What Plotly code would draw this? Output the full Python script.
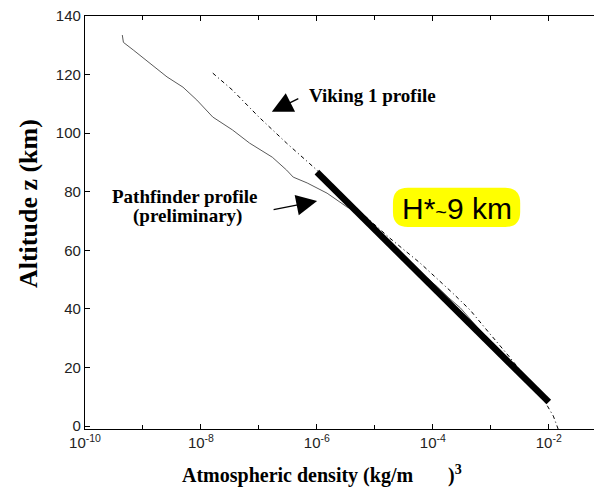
import plotly.graph_objects as go

# ---------------- data ----------------
pathfinder_density = [4.4e-10, 4.6e-10, 6.8e-10, 1.3e-9, 2.6e-9, 4.9e-9, 8.5e-9, 1.6e-8,
                      3.5e-8, 6.9e-8, 1.7e-7, 3.0e-7, 3.9e-7, 6.8e-7, 1.5e-6, 3.3e-6,
                      4.9e-6, 1.0e-5, 2.5e-5, 6.3e-5, 1.2e-4, 1.9e-4, 3.0e-4, 6.3e-4,
                      1.6e-3, 4.0e-3, 7.1e-3]
pathfinder_alt = [133.5, 131.0, 128.4, 123.9, 119.2, 115.7, 111.3, 105.5,
                  101.1, 96.6, 91.8, 87.4, 85.0, 83.0, 79.5, 74.8,
                  73.1, 67.5, 59.8, 52.3, 47.5, 43.7, 40.3, 33.0,
                  25.0, 16.5, 11.3]

viking_density = [1.6e-8, 3.5e-8, 1.0e-7, 3.0e-7, 1.0e-6, 3.3e-6, 1.8e-5, 6.0e-5,
                  2.2e-4, 4.4e-4, 8.5e-4, 2.1e-3, 4.7e-3, 7.9e-3, 9.5e-3, 1.2e-2, 1.45e-2]
viking_alt = [120.5, 114.7, 105.5, 96.6, 87.4, 77.2, 64.2, 55.7,
              45.4, 39.6, 32.8, 23.6, 15.0, 9.6, 6.8, 3.4, -1.0]

fit_density = [1e-6, 1e-2]
fit_alt = [86.7, 8.2]

x_tickvals = [1e-10, 1e-8, 1e-6, 1e-4, 1e-2]
x_ticktext = ["10<sup>-10</sup>", "10<sup>-8</sup>", "10<sup>-6</sup>",
              "10<sup>-4</sup>", "10<sup>-2</sup>"]
x_minorvals = [1e-9, 1e-7, 1e-5, 1e-3]
y_tickvals = [0, 20, 40, 60, 80, 100, 120, 140]

# ---------------- figure ----------------
fig = go.Figure()
fig.add_trace(go.Scatter(x=pathfinder_density, y=pathfinder_alt, mode="lines",
                         line=dict(color="#5a5a5a", width=1), name="Pathfinder"))
fig.add_trace(go.Scatter(x=viking_density, y=viking_alt, mode="lines",
                         line=dict(color="black", width=1, dash="4px,3px,1px,3px"),
                         name="Viking 1"))
fig.add_trace(go.Scatter(x=fit_density, y=fit_alt, mode="lines",
                         line=dict(color="black", width=6.5), name="fit"))

serif = "Liberation Serif"
sans = "Liberation Sans"

fig.update_layout(
    width=594, height=492,
    margin=dict(l=85, r=0, t=16, b=63),
    paper_bgcolor="white", plot_bgcolor="white",
    showlegend=False,
    xaxis=dict(type="log", range=[-10, -1.22],
               tickmode="array", tickvals=x_tickvals, ticktext=x_ticktext,
               ticks="inside", ticklen=5, tickcolor="black", tickwidth=1,
               showline=True, linecolor="black", linewidth=1.3, mirror="ticks",
               showgrid=False, zeroline=False,
               tickfont=dict(family=sans, size=15, color="#222"),
               minor=dict(tickmode="array", tickvals=x_minorvals, ticks="inside",
                          ticklen=4, tickcolor="black", showgrid=False)),
    yaxis=dict(range=[-1, 140], tickmode="array", tickvals=y_tickvals,
               ticks="inside", ticklen=5, tickcolor="black", tickwidth=1,
               showline=True, linecolor="black", linewidth=1.3,
               showgrid=False, zeroline=False,
               tickfont=dict(family=sans, size=15, color="#222")),
)

# rounded yellow box for H*~9 km
x0, x1, y0, y1 = 0.605, 0.855, 0.489, 0.584
rx, ry = 15 / 509, 15 / 413
path = (f"M {x0+rx},{y0} L {x1-rx},{y0} Q {x1},{y0} {x1},{y0+ry} "
        f"L {x1},{y1-ry} Q {x1},{y1} {x1-rx},{y1} L {x0+rx},{y1} "
        f"Q {x0},{y1} {x0},{y1-ry} L {x0},{y0+ry} Q {x0},{y0} {x0+rx},{y0} Z")
fig.add_shape(type="path", path=path, xref="paper", yref="paper",
              fillcolor="#ffff00", line=dict(width=0), layer="above")

annos = [
    dict(x=0.730, y=0.535, text="H*<span style='font-size:20px'>~</span>9 km",
         font=dict(family=sans, size=30, color="black")),
    dict(x=0.565, y=0.808, text="<b>Viking 1 profile</b>",
         font=dict(family=serif, size=19, color="black")),
    dict(x=0.197, y=0.563, text="<b>Pathfinder profile</b>",
         font=dict(family=serif, size=19, color="black")),
    dict(x=0.202, y=0.516, text="<b>(preliminary)</b>",
         font=dict(family=serif, size=19, color="black")),
    dict(x=-0.112, y=0.547, text="<b>Altitude z (km)</b>", textangle=-90,
         font=dict(family=serif, size=26, color="black")),
    dict(x=0.466, y=-0.109,
         text="<b>Atmospheric density (kg/m&nbsp;&nbsp;&nbsp;&nbsp;&nbsp;&nbsp;&nbsp;)<sup>3</sup></b>",
         font=dict(family=serif, size=20, color="black")),
]
for a in annos:
    fig.add_annotation(xref="paper", yref="paper", showarrow=False,
                       xanchor="center", yanchor="middle", **a)

# arrows
fig.add_annotation(xref="paper", yref="paper", x=0.367, y=0.768, ax=28, ay=-14,
                   text="", showarrow=True, arrowhead=2, arrowsize=3.2,
                   arrowwidth=1.3, arrowcolor="black")
fig.add_annotation(xref="paper", yref="paper", x=0.456, y=0.552, ax=-45, ay=9,
                   text="", showarrow=True, arrowhead=2, arrowsize=3.2,
                   arrowwidth=1.3, arrowcolor="black")

fig.write_html("out.html")
